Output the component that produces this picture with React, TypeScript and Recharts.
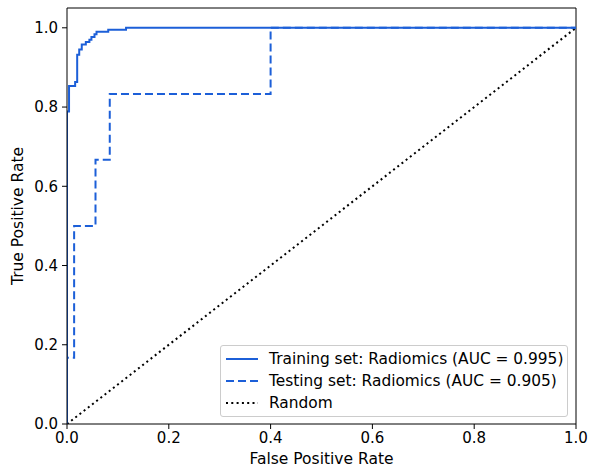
import React from 'react';
import { LineChart, Line, XAxis, YAxis, Legend, ReferenceLine } from 'recharts';

const trainFpr = [0, 0, 0.004, 0.004, 0.016, 0.016, 0.02, 0.02, 0.024, 0.024, 0.029, 0.029, 0.037, 0.037, 0.044, 0.044, 0.048, 0.048, 0.054, 0.054, 0.058, 0.058, 0.081, 0.081, 0.116, 0.116, 1];
const trainTpr = [0, 0.789, 0.789, 0.853, 0.853, 0.863, 0.863, 0.932, 0.932, 0.945, 0.945, 0.958, 0.958, 0.964, 0.964, 0.97, 0.97, 0.977, 0.977, 0.984, 0.984, 0.99, 0.99, 0.995, 0.995, 1, 1];

const testFpr = [0, 0, 0.014, 0.014, 0.056, 0.056, 0.084, 0.084, 0.4, 0.4, 1];
const testTpr = [0, 0.167, 0.167, 0.5, 0.5, 0.667, 0.667, 0.833, 0.833, 1, 1];

const randomFpr = [0, 1];
const randomTpr = [0, 1];

const xTicks = [0, 0.2, 0.4, 0.6, 0.8, 1.0];
const yTicks = [0, 0.2, 0.4, 0.6, 0.8, 1.0];
const xMax = 1;
const yMax = 1.05;

const seriesNames = [
  'Training set: Radiomics (AUC = 0.995)',
  'Testing set: Radiomics (AUC = 0.905)',
  'Random',
];

const BLUE = '#1c5fd8';
const FONT = '"DejaVu Sans", sans-serif';

const zip = (xs: number[], ys: number[]) => xs.map((x, i) => ({ x, y: ys[i] }));
const trainData = zip(trainFpr, trainTpr);
const testData = zip(testFpr, testTpr);
const randomData = zip(randomFpr, randomTpr);

const legendStyles = [
  { stroke: BLUE, dash: undefined as string | undefined, w: 2 },
  { stroke: BLUE, dash: '8 4', w: 2 },
  { stroke: '#000', dash: '2 3.3', w: 2 },
];

const renderLegend = () => (
  <div
    style={{
      width: 348,
      height: 72,
      boxSizing: 'border-box',
      border: '1px solid #cccccc',
      borderRadius: 3,
      background: 'rgba(255,255,255,0.8)',
      fontFamily: FONT,
      fontSize: 15.4,
      color: '#000',
      paddingTop: 2,
    }}
  >
    {seriesNames.map((n, i) => (
      <div key={n} style={{ display: 'flex', alignItems: 'center', height: 22 }}>
        <svg width={44} height={10} style={{ marginLeft: 4 }}>
          <line x1={1} y1={5} x2={33} y2={5} stroke={legendStyles[i].stroke} strokeWidth={legendStyles[i].w} strokeDasharray={legendStyles[i].dash} />
        </svg>
        <span style={{ whiteSpace: 'nowrap' }}>{n}</span>
      </div>
    ))}
  </div>
);

export default function App() {
  return (
    <div style={{ position: 'absolute', left: 0, top: 0, background: '#fff' }}>
      <LineChart width={590} height={469} margin={{ top: 8, right: 14, left: 0, bottom: 0 }}>
        <XAxis
          xAxisId="b"
          type="number"
          dataKey="x"
          domain={[0, xMax]}
          ticks={xTicks}
          allowDataOverflow
          tickFormatter={(v: number) => v.toFixed(1)}
          height={45}
          tickSize={5}
          tickMargin={3}
          stroke="#000"
          tick={{ fill: '#000', fontSize: 15, fontFamily: FONT }}
          label={{ value: 'False Positive Rate', position: 'insideBottom', offset: 5, style: { fill: '#000', fontSize: 15.5, fontFamily: FONT } }}
        />
        <YAxis
          yAxisId="l"
          type="number"
          domain={[0, yMax]}
          ticks={yTicks}
          allowDataOverflow
          tickFormatter={(v: number) => v.toFixed(1)}
          width={67}
          tickSize={5}
          tickMargin={4}
          stroke="#000"
          tick={{ fill: '#000', fontSize: 15, fontFamily: FONT }}
          label={{ value: 'True Positive Rate', angle: -90, position: 'insideLeft', offset: 17, style: { fill: '#000', fontSize: 15.5, fontFamily: FONT, textAnchor: 'middle' } }}
        />
        <ReferenceLine xAxisId="b" yAxisId="l" y={yMax} stroke="#000" strokeWidth={1} />
        <ReferenceLine xAxisId="b" yAxisId="l" x={xMax} stroke="#000" strokeWidth={1} />
        <Line xAxisId="b" yAxisId="l" data={randomData} dataKey="y" type="linear" stroke="#000" strokeWidth={2} strokeDasharray="2 3.3" dot={false} isAnimationActive={false} />
        <Line xAxisId="b" yAxisId="l" data={testData} dataKey="y" type="linear" stroke={BLUE} strokeWidth={2} strokeDasharray="8 4" dot={false} isAnimationActive={false} />
        <Line xAxisId="b" yAxisId="l" data={trainData} dataKey="y" type="linear" stroke={BLUE} strokeWidth={2} dot={false} isAnimationActive={false} />
        <Legend
          layout="horizontal"
          verticalAlign="middle"
          align="center"
          content={renderLegend}
          wrapperStyle={{ left: 220, top: 345, width: 348, height: 72 }}
        />
      </LineChart>
    </div>
  );
}
